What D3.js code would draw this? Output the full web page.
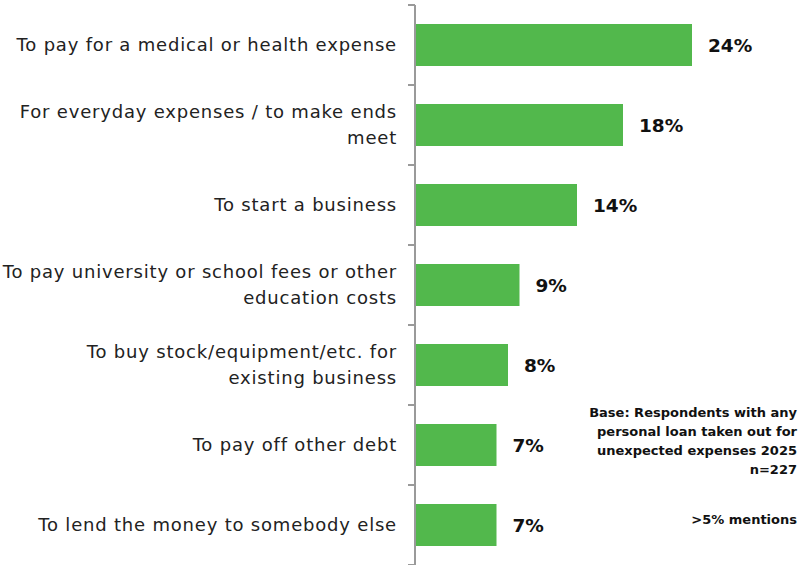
<!DOCTYPE html>
<html>
<head>
<meta charset="utf-8">
<script src="https://cdn.jsdelivr.net/npm/d3@7"></script>
<style>
  html, body { margin: 0; padding: 0; background: #fff; }
  svg { display: block; font-family: "DejaVu Sans", sans-serif; }
</style>
</head>
<body>
<svg id="chart" width="807" height="565"></svg>
<script>
// Reasons for taking out a personal loan (share of respondents)
const categories = [
  "To pay for a medical or health expense",
  "For everyday expenses / to make ends\nmeet",
  "To start a business",
  "To pay university or school fees or other\neducation costs",
  "To buy stock/equipment/etc. for\nexisting business",
  "To pay off other debt",
  "To lend the money to somebody else"
];
const values = [24, 18, 14, 9, 8, 7, 7];
const valueLabels = ["24%", "18%", "14%", "9%", "8%", "7%", "7%"];
const noteLines = [
  "Base: Respondents with any",
  "personal loan taken out for",
  "unexpected expenses 2025",
  "n=227"
];
const mentionNote = ">5% mentions";

const svg = d3.select("#chart");
const axisX = 416;

const x = d3.scaleLinear().domain([0, 24]).range([axisX, 692]);
const y = d3.scaleBand()
  .domain(categories)
  .range([5, 565])
  .paddingInner(0.475)
  .paddingOuter(0.2375);

// Bars
svg.append("g")
  .selectAll("rect")
  .data(values)
  .join("rect")
  .attr("x", x(0))
  .attr("y", (d, i) => y(categories[i]))
  .attr("width", d => x(d) - x(0))
  .attr("height", y.bandwidth())
  .attr("fill", "#52b84c");

// Category axis with ticks at band boundaries
const axisG = svg.append("g");
axisG.append("line")
  .attr("x1", axisX - 1).attr("x2", axisX - 1)
  .attr("y1", y.range()[0]).attr("y2", y.range()[1])
  .attr("stroke", "#9a9a9a").attr("stroke-width", 2);
const step = y.step();
const bounds = d3.range(categories.length + 1).map(i => y.range()[0] + i * step);
axisG.selectAll("line.tick")
  .data(bounds)
  .join("line")
  .attr("class", "tick")
  .attr("x1", axisX - 8).attr("x2", axisX - 1)
  .attr("y1", d => d).attr("y2", d => d)
  .attr("stroke", "#9a9a9a").attr("stroke-width", 2);

// Category labels (right aligned, multi-line)
const lineH = 26;
const labels = svg.append("g")
  .selectAll("text")
  .data(categories)
  .join("text")
  .attr("text-anchor", "end")
  .attr("font-size", 18)
  .attr("letter-spacing", 0.8)
  .attr("fill", "#222")
  .attr("transform", d => {
    const n = d.split("\n").length;
    const cy = y(d) + y.bandwidth() / 2 - (n - 1) * lineH / 2;
    return `translate(${axisX - 19},${cy})`;
  });
labels.selectAll("tspan")
  .data(d => d.split("\n"))
  .join("tspan")
  .attr("x", 0)
  .attr("y", (d, i) => i * lineH)
  .attr("dy", "0.35em")
  .text(d => d);

// Value labels
svg.append("g")
  .selectAll("text")
  .data(values)
  .join("text")
  .attr("x", d => x(d) + 16)
  .attr("y", (d, i) => y(categories[i]) + y.bandwidth() / 2)
  .attr("dy", "0.36em")
  .attr("font-size", 18.5)
  .attr("font-weight", "bold")
  .attr("fill", "#111")
  .text((d, i) => valueLabels[i]);

// Base note
const note = svg.append("text")
  .attr("text-anchor", "end")
  .attr("font-size", 13)
  .attr("font-weight", "bold")
  .attr("fill", "#111");
note.selectAll("tspan")
  .data(noteLines)
  .join("tspan")
  .attr("x", 797)
  .attr("y", (d, i) => 417 + i * 19)
  .text(d => d);

svg.append("text")
  .attr("x", 797).attr("y", 524)
  .attr("text-anchor", "end")
  .attr("font-size", 13)
  .attr("font-weight", "bold")
  .attr("fill", "#111")
  .text(mentionNote);
</script>
</body>
</html>
